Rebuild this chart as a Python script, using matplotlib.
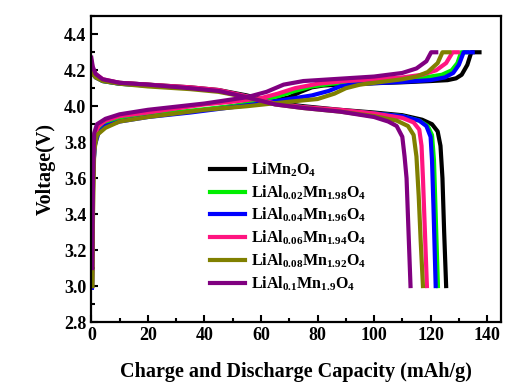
import matplotlib
matplotlib.use('Agg')
import matplotlib.pyplot as plt
from matplotlib.ticker import MultipleLocator

plt.rcParams['font.family'] = ['Liberation Serif', 'DejaVu Serif']
plt.rcParams['font.weight'] = 'bold'
plt.rcParams['mathtext.fontset'] = 'custom'
plt.rcParams['mathtext.rm'] = 'Liberation Serif:bold'
plt.rcParams['mathtext.bf'] = 'Liberation Serif:bold'
plt.rcParams['mathtext.it'] = 'Liberation Serif:bold'

labels = [r'$\mathbf{LiMn_2O_4}$',
          r'$\mathbf{LiAl_{0.02}Mn_{1.98}O_4}$',
          r'$\mathbf{LiAl_{0.04}Mn_{1.96}O_4}$',
          r'$\mathbf{LiAl_{0.06}Mn_{1.94}O_4}$',
          r'$\mathbf{LiAl_{0.08}Mn_{1.92}O_4}$',
          r'$\mathbf{LiAl_{0.1}Mn_{1.9}O_4}$']
colors = ['#000000', '#00ee00', '#0000ff', '#ff1480', '#808000', '#800080']

# charge curves (capacity mAh/g, voltage V)
chg_cap_0 = [0.3, 0.6, 1.2, 2.5, 5, 10, 20, 35, 50, 60, 66, 70, 74, 78, 82, 90, 100, 110, 120, 126, 129, 131, 133, 134.4, 137.3]
chg_v_0 = [3.0, 3.6, 3.82, 3.87, 3.9, 3.92, 3.945, 3.97, 4.0, 4.02, 4.035, 4.05, 4.08, 4.105, 4.115, 4.122, 4.128, 4.133, 4.14, 4.145, 4.155, 4.175, 4.23, 4.3, 4.3]
chg_cap_1 = [0.3, 0.6, 1.2, 2.5, 5, 10, 20, 35, 50, 60, 66, 72, 78, 85, 100, 110, 118, 124, 127.5, 129.5, 130.8, 133.0]
chg_v_1 = [3.0, 3.6, 3.82, 3.87, 3.9, 3.925, 3.95, 3.975, 4.0, 4.03, 4.055, 4.085, 4.11, 4.125, 4.14, 4.15, 4.16, 4.175, 4.2, 4.24, 4.3, 4.3]
chg_cap_2 = [0.2, 0.5, 1.2, 2.5, 5, 10, 20, 35, 50, 60, 70, 78, 84, 88, 92, 100, 110, 120, 125, 128, 130, 131.7, 134.9]
chg_v_2 = [2.99, 3.6, 3.78, 3.85, 3.89, 3.915, 3.94, 3.965, 3.995, 4.015, 4.04, 4.06, 4.085, 4.11, 4.12, 4.128, 4.135, 4.145, 4.16, 4.185, 4.23, 4.3, 4.3]
chg_cap_3 = [0.3, 0.6, 1.2, 2.5, 5, 10, 20, 40, 50, 60, 66, 72, 80, 90, 100, 110, 117, 122, 125.5, 127.8, 129.6]
chg_v_3 = [3.0, 3.6, 3.84, 3.89, 3.92, 3.945, 3.965, 4.01, 4.025, 4.045, 4.07, 4.1, 4.125, 4.14, 4.15, 4.16, 4.175, 4.2, 4.24, 4.3, 4.3]
chg_cap_4 = [0.3, 0.6, 1.0, 2.0, 5, 10, 20, 40, 55, 70, 80, 86, 90, 95, 100, 110, 115, 119, 122.5, 124.2, 126.7]
chg_v_4 = [3.0, 3.4, 3.75, 3.84, 3.88, 3.915, 3.94, 3.98, 4.0, 4.025, 4.04, 4.07, 4.1, 4.12, 4.13, 4.15, 4.165, 4.19, 4.24, 4.3, 4.3]
chg_cap_5 = [0.3, 0.6, 1.0, 2.0, 5, 10, 20, 40, 55, 62, 68, 75, 85, 100, 110, 115, 118.5, 120.2, 122.0]
chg_v_5 = [3.1, 3.6, 3.85, 3.9, 3.93, 3.955, 3.98, 4.015, 4.05, 4.08, 4.12, 4.14, 4.15, 4.165, 4.185, 4.21, 4.25, 4.3, 4.3]

# discharge curves
dis_cap_0 = [0, 0.5, 1.5, 4, 10, 20, 35, 45, 55, 65, 75, 88, 100, 110, 117, 120.5, 122.5, 123.5, 124.2, 124.8, 125.5]
dis_v_0 = [4.24, 4.2, 4.17, 4.145, 4.13, 4.12, 4.105, 4.09, 4.06, 4.02, 4.0, 3.98, 3.965, 3.95, 3.925, 3.9, 3.86, 3.78, 3.6, 3.3, 3.0]
dis_cap_1 = [0, 0.5, 1.5, 4, 10, 20, 35, 45, 55, 65, 75, 88, 100, 110, 116, 119, 120.5, 121.2, 121.8, 122.6]
dis_v_1 = [4.23, 4.19, 4.165, 4.14, 4.125, 4.115, 4.1, 4.085, 4.055, 4.015, 3.995, 3.975, 3.96, 3.945, 3.92, 3.89, 3.84, 3.7, 3.4, 3.0]
dis_cap_2 = [0, 0.5, 1.5, 4, 10, 20, 35, 45, 55, 65, 75, 88, 100, 110, 116, 118.5, 120, 120.5, 121, 121.8]
dis_v_2 = [4.22, 4.18, 4.16, 4.14, 4.125, 4.115, 4.1, 4.085, 4.055, 4.015, 3.995, 3.975, 3.96, 3.945, 3.92, 3.89, 3.83, 3.7, 3.45, 3.0]
dis_cap_3 = [0, 0.5, 1.5, 4, 10, 20, 35, 45, 55, 65, 75, 88, 100, 110, 114, 116, 116.8, 117.3, 118, 118.7]
dis_v_3 = [4.25, 4.21, 4.18, 4.15, 4.13, 4.12, 4.105, 4.09, 4.055, 4.015, 3.995, 3.98, 3.96, 3.935, 3.91, 3.87, 3.78, 3.6, 3.3, 3.0]
dis_cap_4 = [0, 0.5, 1.5, 4, 10, 20, 35, 45, 55, 65, 75, 88, 100, 108, 112, 114, 115, 115.8, 116.5, 117.3]
dis_v_4 = [4.22, 4.18, 4.16, 4.14, 4.125, 4.11, 4.095, 4.08, 4.05, 4.01, 3.99, 3.97, 3.945, 3.92, 3.89, 3.84, 3.72, 3.5, 3.25, 3.0]
dis_cap_5 = [0, 0.5, 1.5, 4, 10, 20, 35, 45, 55, 65, 75, 88, 100, 105, 108, 110, 110.8, 111.5, 112.2, 112.9]
dis_v_5 = [4.27, 4.22, 4.18, 4.15, 4.13, 4.12, 4.1, 4.085, 4.05, 4.01, 3.99, 3.97, 3.94, 3.915, 3.89, 3.83, 3.72, 3.6, 3.3, 3.0]

chg_caps = [chg_cap_0, chg_cap_1, chg_cap_2, chg_cap_3, chg_cap_4, chg_cap_5]
chg_vs = [chg_v_0, chg_v_1, chg_v_2, chg_v_3, chg_v_4, chg_v_5]
dis_caps = [dis_cap_0, dis_cap_1, dis_cap_2, dis_cap_3, dis_cap_4, dis_cap_5]
dis_vs = [dis_v_0, dis_v_1, dis_v_2, dis_v_3, dis_v_4, dis_v_5]

fig = plt.figure(figsize=(5.31, 3.88), dpi=100)
ax = fig.add_axes([0.172, 0.170, 0.772, 0.788])

for i in range(6):
    ax.plot(chg_caps[i], chg_vs[i], color=colors[i], lw=3, solid_joinstyle='round')
    ax.plot(dis_caps[i], dis_vs[i], color=colors[i], lw=3, label=labels[i], solid_joinstyle='round')

ax.set_xlim(0, 145)
ax.set_ylim(2.8, 4.5)
ax.xaxis.set_major_locator(MultipleLocator(20))
ax.xaxis.set_minor_locator(MultipleLocator(10))
ax.yaxis.set_minor_locator(MultipleLocator(0.1))
ax.set_yticks([2.8, 3.0, 3.2, 3.4, 3.6, 3.8, 4.0, 4.2, 4.4])
ax.tick_params(which='both', direction='in', top=False, right=False, labelsize=13, width=1.5)
ax.tick_params(which='major', length=5)
ax.tick_params(which='minor', length=3)
for lab in ax.get_xticklabels() + ax.get_yticklabels():
    lab.set_fontweight('bold')
for s in ax.spines.values():
    s.set_linewidth(1.6)

ax.set_xlabel('Charge and Discharge Capacity (mAh/g)', fontsize=14.5, fontweight='bold', labelpad=13)
ax.set_ylabel('Voltage(V)', fontsize=14.5, fontweight='bold', labelpad=6)

ax.legend(loc='upper left', bbox_to_anchor=(0.27, 0.555), frameon=False, fontsize=11.5,
          handlelength=2.2, handletextpad=0.35, labelspacing=0.28, borderpad=0)

fig.savefig('out.png', dpi=100)
